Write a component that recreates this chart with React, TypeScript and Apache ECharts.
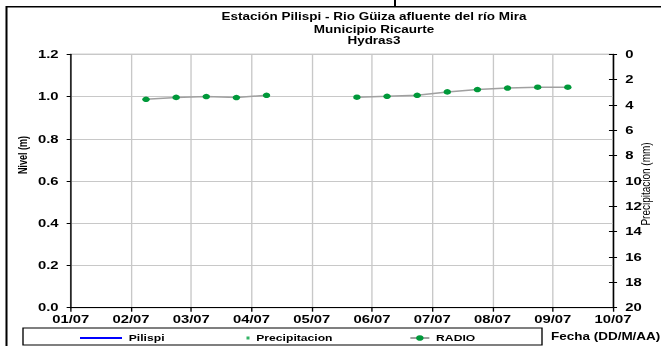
import React, { useEffect, useRef } from 'react';
import * as echarts from 'echarts';

// The reference picture is stretched horizontally; reproduce that by scaling the chart.
const S = 1.35;
const W = 661 / S;
const H = 346;
const sx = (px: number) => px / S;

const FONT = '"Liberation Sans", Arial, sans-serif';

const titleLines = [
  'Estación Pilispi - Rio Güiza afluente del río Mira',
  'Municipio Ricaurte',
  'Hydras3',
];
const xTickLabels = ['01/07', '02/07', '03/07', '04/07', '05/07', '06/07', '07/07', '08/07', '09/07', '10/07'];
const radioTimes = [
  '02/07 06:00', '02/07 18:00', '03/07 06:00', '03/07 18:00', '04/07 06:00',
  '04/07 18:00', '05/07 06:00', '05/07 18:00', '06/07 06:00', '06/07 18:00',
  '07/07 06:00', '07/07 18:00', '08/07 06:00', '08/07 18:00', '09/07 06:00',
];
const radioValues: (number | null)[] = [
  0.987, 0.996, 1.0, 0.995, 1.006,
  null, null, 0.997, 1.001, 1.006,
  1.022, 1.033, 1.04, 1.044, 1.044,
];
const pilispiValues: [number, number][] = [];
const precipValues: [number, number][] = [];

const toDay = (t: string) => parseInt(t.slice(0, 2), 10) - 1 + parseInt(t.slice(6, 8), 10) / 24;

export default function App() {
  const ref = useRef<HTMLDivElement>(null);
  useEffect(() => {
    if (!ref.current) return;
    const chart = echarts.init(ref.current, null, { renderer: 'svg' });
    const radioData = radioTimes.map((t, i) => [toDay(t), radioValues[i] == null ? '-' : radioValues[i]]);
    const legendCommon = {
      orient: 'horizontal',
      padding: 0,
      selectedMode: false,
      textStyle: { fontSize: 9, fontWeight: 'bold', color: '#000', fontFamily: FONT },
    };
    const txt = (text: string, x: number, y: number, extra: any = {}, style: any = {}) => ({
      type: 'text',
      x,
      y,
      silent: true,
      ...extra,
      style: {
        text,
        fill: '#000',
        fontFamily: FONT,
        fontSize: 10,
        fontWeight: 'bold',
        align: 'center',
        verticalAlign: 'middle',
        ...style,
      },
    });
    chart.setOption({
      animation: false,
      textStyle: { fontFamily: FONT },
      grid: {
        left: sx(70.7),
        top: 54.3,
        width: sx(613 - 70.7),
        height: 253.4,
        show: true,
        borderColor: '#a0a0a0',
        borderWidth: 1.2,
        containLabel: false,
      },
      legend: [
        { ...legendCommon, data: [{ name: 'Pilispi', icon: 'rect' }], left: sx(80), top: 333.5, itemWidth: sx(42), itemHeight: 2 },
        { ...legendCommon, data: [{ name: 'Precipitacion', icon: 'rect' }], left: sx(246.5), top: 333.5, itemWidth: sx(3), itemHeight: 3 },
        { ...legendCommon, data: ['RADIO'], left: sx(409), top: 333.5, itemWidth: sx(19), itemHeight: 7 },
      ],
      xAxis: {
        type: 'value',
        min: 0,
        max: 9,
        interval: 1,
        axisLine: { lineStyle: { color: '#000', width: 1 } },
        axisTick: { show: true, length: 4, lineStyle: { color: '#000' } },
        axisLabel: {
          formatter: (v: number) => xTickLabels[Math.round(v)],
          color: '#000',
          fontWeight: 'bold',
          fontSize: 11,
          margin: 6,
          showMinLabel: true,
          showMaxLabel: true,
        },
        splitLine: { show: true, lineStyle: { color: '#c8c8c8', width: 1 } },
      },
      yAxis: [
        {
          type: 'value',
          position: 'left',
          min: 0,
          max: 1.2,
          interval: 0.2,
          axisLine: { show: true, lineStyle: { color: '#000', width: 1 } },
          axisTick: { show: true, length: 3, lineStyle: { color: '#000' } },
          axisLabel: {
            formatter: (v: number) => v.toFixed(1),
            color: '#000',
            fontWeight: 'bold',
            fontSize: 11,
            margin: 9,
          },
          splitLine: { show: true, lineStyle: { color: '#c8c8c8', width: 1 } },
        },
        {
          type: 'value',
          position: 'right',
          inverse: true,
          min: 0,
          max: 20,
          interval: 2,
          axisLine: { show: true, lineStyle: { color: '#000', width: 1 } },
          axisTick: { show: true, length: 3, lineStyle: { color: '#000' } },
          axisLabel: { color: '#000', fontWeight: 'bold', fontSize: 11, margin: 9 },
          splitLine: { show: false },
        },
        {
          type: 'value',
          position: 'right',
          inverse: true,
          min: 0,
          max: 20,
          interval: 2,
          axisLine: { show: false },
          axisTick: { show: true, inside: true, length: 3, lineStyle: { color: '#000' } },
          axisLabel: { show: false },
          splitLine: { show: false },
        },
      ],
      series: [
        {
          name: 'Pilispi',
          type: 'line',
          data: pilispiValues,
          symbol: 'none',
          itemStyle: { color: '#0000ff' },
          lineStyle: { color: '#0000ff', width: 2 },
        },
        {
          name: 'Precipitacion',
          type: 'scatter',
          yAxisIndex: 1,
          data: precipValues,
          symbol: 'rect',
          symbolSize: 3,
          itemStyle: { color: '#00a040' },
        },
        {
          name: 'RADIO',
          type: 'line',
          data: radioData,
          symbol: 'circle',
          symbolSize: 5.5,
          showSymbol: true,
          connectNulls: false,
          itemStyle: { color: '#00993a' },
          lineStyle: { color: '#a0a0a0', width: 1.5 },
        },
      ],
      graphic: [
        {
          type: 'rect',
          silent: true,
          shape: { x: sx(6.5), y: 6.8, width: 700, height: 400 },
          style: { fill: 'none', stroke: '#000', lineWidth: 1.5 },
        },
        {
          type: 'line',
          silent: true,
          shape: { x1: sx(395), y1: 0, x2: sx(395), y2: 7 },
          style: { stroke: '#000', lineWidth: 1.5 },
        },
        txt(titleLines[0], sx(374), 17),
        txt(titleLines[1], sx(374), 30),
        txt(titleLines[2], sx(374), 41),
        txt('Nivel (m)', sx(22), 155, { rotation: Math.PI / 2 }, { fontWeight: 'bold', fontSize: 9 }),
        txt('Precipitacion (mm)', sx(645), 184, { rotation: Math.PI / 2 }, { fontWeight: 'normal', fontSize: 10 }),
        txt('Fecha (DD/M/AA)', sx(551), 337, {}, { align: 'left', fontSize: 10 }),
        {
          type: 'rect',
          silent: true,
          shape: { x: sx(23), y: 328, width: sx(542 - 23), height: 17 },
          style: { fill: 'none', stroke: '#000', lineWidth: 1 },
        },
      ],
    });
    return () => chart.dispose();
  }, []);
  return (
    <div
      ref={ref}
      style={{
        position: 'fixed',
        left: 0,
        top: 0,
        width: W,
        height: H,
        transform: `scaleX(${S})`,
        transformOrigin: '0 0',
      }}
    />
  );
}
